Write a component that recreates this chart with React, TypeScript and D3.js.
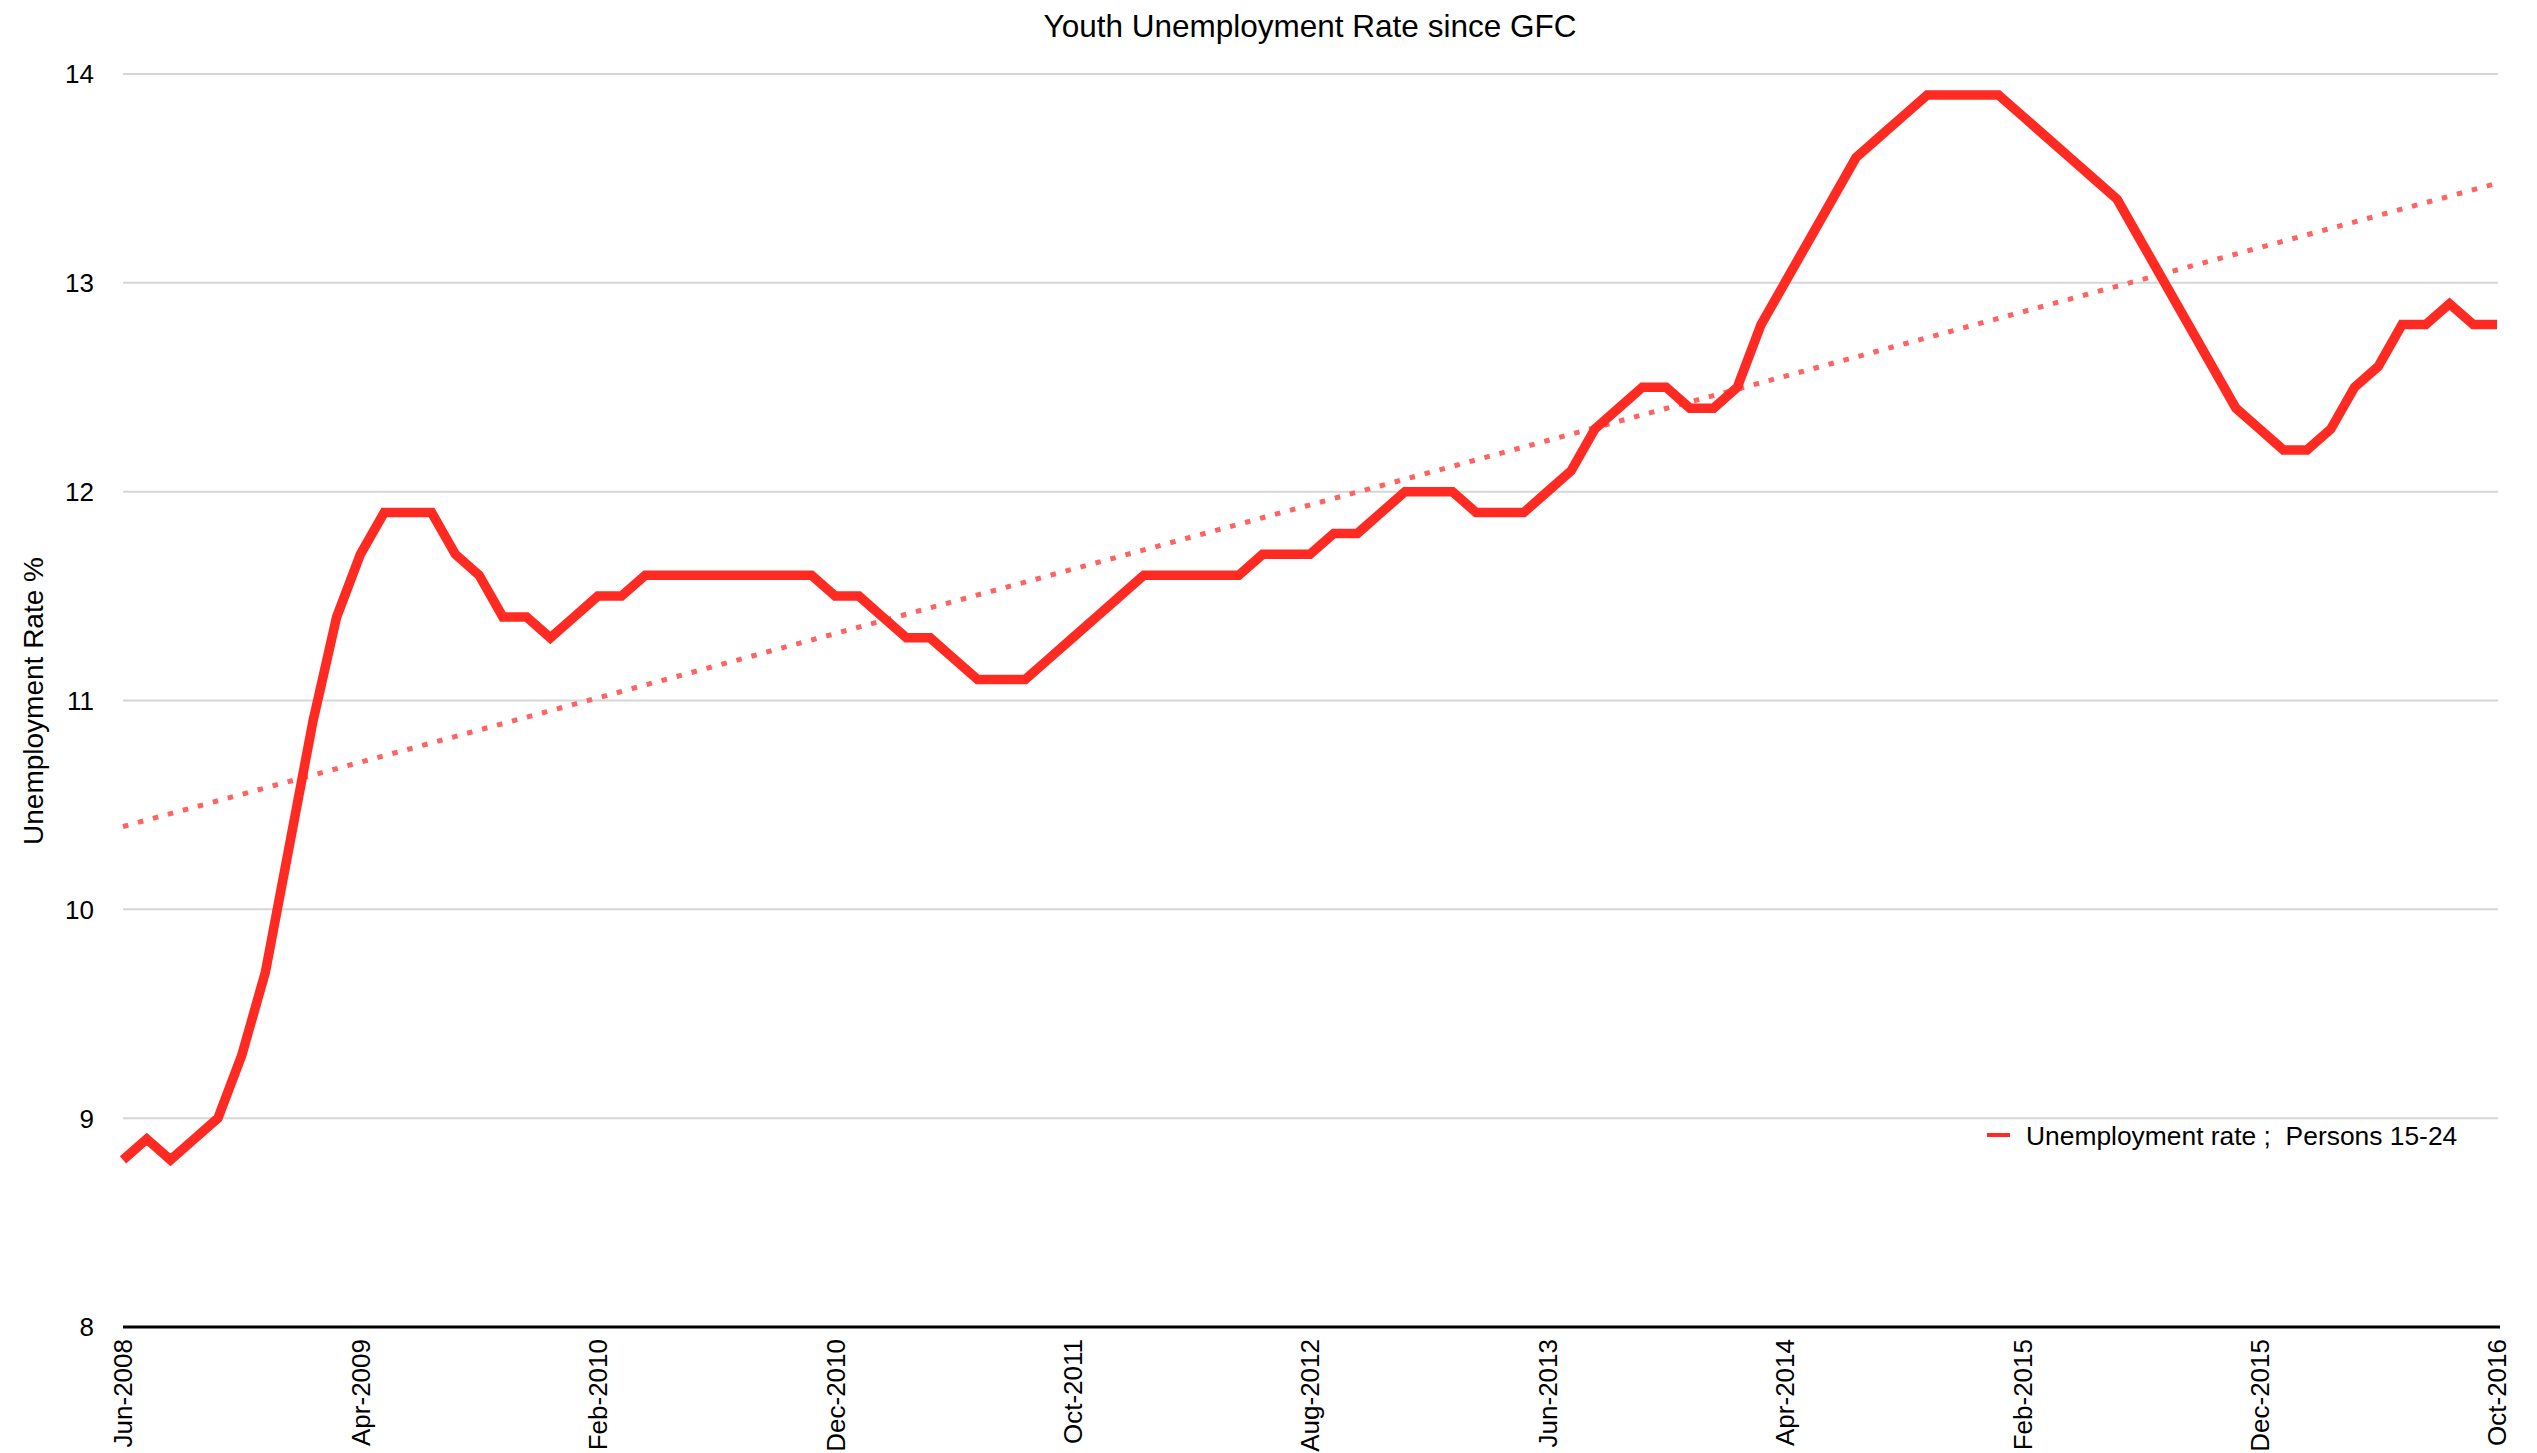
import * as d3 from 'd3';

// Monthly youth unemployment rate (%), Persons 15-24, Jun-2008 .. Oct-2016
const rates = [
  8.8, 8.9, 8.8, 8.9, 9.0, 9.3, 9.7, 10.3, 10.9, 11.4,
  11.7, 11.9, 11.9, 11.9, 11.7, 11.6, 11.4, 11.4, 11.3, 11.4,
  11.5, 11.5, 11.6, 11.6, 11.6, 11.6, 11.6, 11.6, 11.6, 11.6,
  11.5, 11.5, 11.4, 11.3, 11.3, 11.2, 11.1, 11.1, 11.1, 11.2,
  11.3, 11.4, 11.5, 11.6, 11.6, 11.6, 11.6, 11.6, 11.7, 11.7,
  11.7, 11.8, 11.8, 11.9, 12.0, 12.0, 12.0, 11.9, 11.9, 11.9,
  12.0, 12.1, 12.3, 12.4, 12.5, 12.5, 12.4, 12.4, 12.5, 12.8,
  13.0, 13.2, 13.4, 13.6, 13.7, 13.8, 13.9, 13.9, 13.9, 13.9,
  13.8, 13.7, 13.6, 13.5, 13.4, 13.2, 13.0, 12.8, 12.6, 12.4,
  12.3, 12.2, 12.2, 12.3, 12.5, 12.6, 12.8, 12.8, 12.9, 12.8,
  12.8,
];

// x tick labels, one every 10 months
const xTickLabels = [
  'Jun-2008', 'Apr-2009', 'Feb-2010', 'Dec-2010', 'Oct-2011', 'Aug-2012',
  'Jun-2013', 'Apr-2014', 'Feb-2015', 'Dec-2015', 'Oct-2016',
];
const xTickStep = 10;

const yTicks = [8, 9, 10, 11, 12, 13, 14];

const seriesName = 'Unemployment rate ;  Persons 15-24';

const W = 2537;
const H = 1453;
const margin = { top: 74, right: 40, bottom: 126, left: 123 };
const FONT = '"Liberation Sans", Arial, Helvetica, sans-serif';
const RED = '#ff2b22';
const TREND = '#ff6262';

export default function App() {
  const x = d3.scaleLinear()
    .domain([0, rates.length - 1])
    .range([margin.left, W - margin.right]);
  const y = d3.scaleLinear()
    .domain([8, 14])
    .range([H - margin.bottom, margin.top]);

  const line = d3.line<number>()
    .x((_, i) => x(i))
    .y(d => y(d));

  // least squares trend line
  const n = rates.length;
  const mx = d3.mean(rates, (_, i) => i) as number;
  const my = d3.mean(rates) as number;
  const sxy = d3.sum(rates, (v, i) => (i - mx) * (v - my));
  const sxx = d3.sum(rates, (_, i) => (i - mx) * (i - mx));
  const slope = sxy / sxx;
  const trend = (i: number) => my + slope * (i - mx);

  const x0 = x.range()[0];
  const x1 = x.range()[1];

  return (
    <div style={{ position: 'absolute', left: 0, top: 0 }}>
      <svg width={W} height={H} style={{ display: 'block', background: '#fff' }} fontFamily={FONT}>
        <text x={(x0 + x1) / 2} y={37} textAnchor="middle" fontSize={31.5} fill="#000">
          Youth Unemployment Rate since GFC
        </text>

        {/* grid */}
        {yTicks.filter(t => t !== 8).map(t => (
          <line key={t} x1={x0} x2={x1 + 1} y1={y(t)} y2={y(t)} stroke="#d6d6d6" strokeWidth={2} />
        ))}

        {/* y labels */}
        {yTicks.map(t => (
          <text key={t} x={94} y={y(t)} dy="0.36em" textAnchor="end" fontSize={26} fill="#000">
            {t}
          </text>
        ))}

        <text
          transform={`translate(43,701) rotate(-90)`}
          textAnchor="middle"
          fontSize={28}
          fill="#000"
        >
          Unemployment Rate %
        </text>

        {/* x axis */}
        <line x1={x0} x2={x1 + 3} y1={y(8)} y2={y(8)} stroke="#000" strokeWidth={3} />
        {xTickLabels.map((lab, k) => (
          <text
            key={lab}
            transform={`translate(${x(k * xTickStep)},${y(8) + 12}) rotate(-90)`}
            dy="0.36em"
            textAnchor="end"
            fontSize={26}
            fill="#000"
          >
            {lab}
          </text>
        ))}

        {/* trend */}
        <line
          x1={x(0)} y1={y(trend(0))} x2={x(n - 1)} y2={y(trend(n - 1))}
          stroke={TREND} strokeWidth={5} strokeDasharray="5.5 10"
        />

        {/* series */}
        <path d={line(rates) || ''} fill="none" stroke={RED} strokeWidth={9.5} strokeLinejoin="miter" />

        {/* legend */}
        <line x1={1987} x2={2010} y1={1135} y2={1135} stroke={RED} strokeWidth={4} />
        <text x={2026} y={1135} dy="0.36em" fontSize={26.4} fill="#000" style={{ whiteSpace: 'pre' }}>
          {seriesName}
        </text>
      </svg>
    </div>
  );
}
